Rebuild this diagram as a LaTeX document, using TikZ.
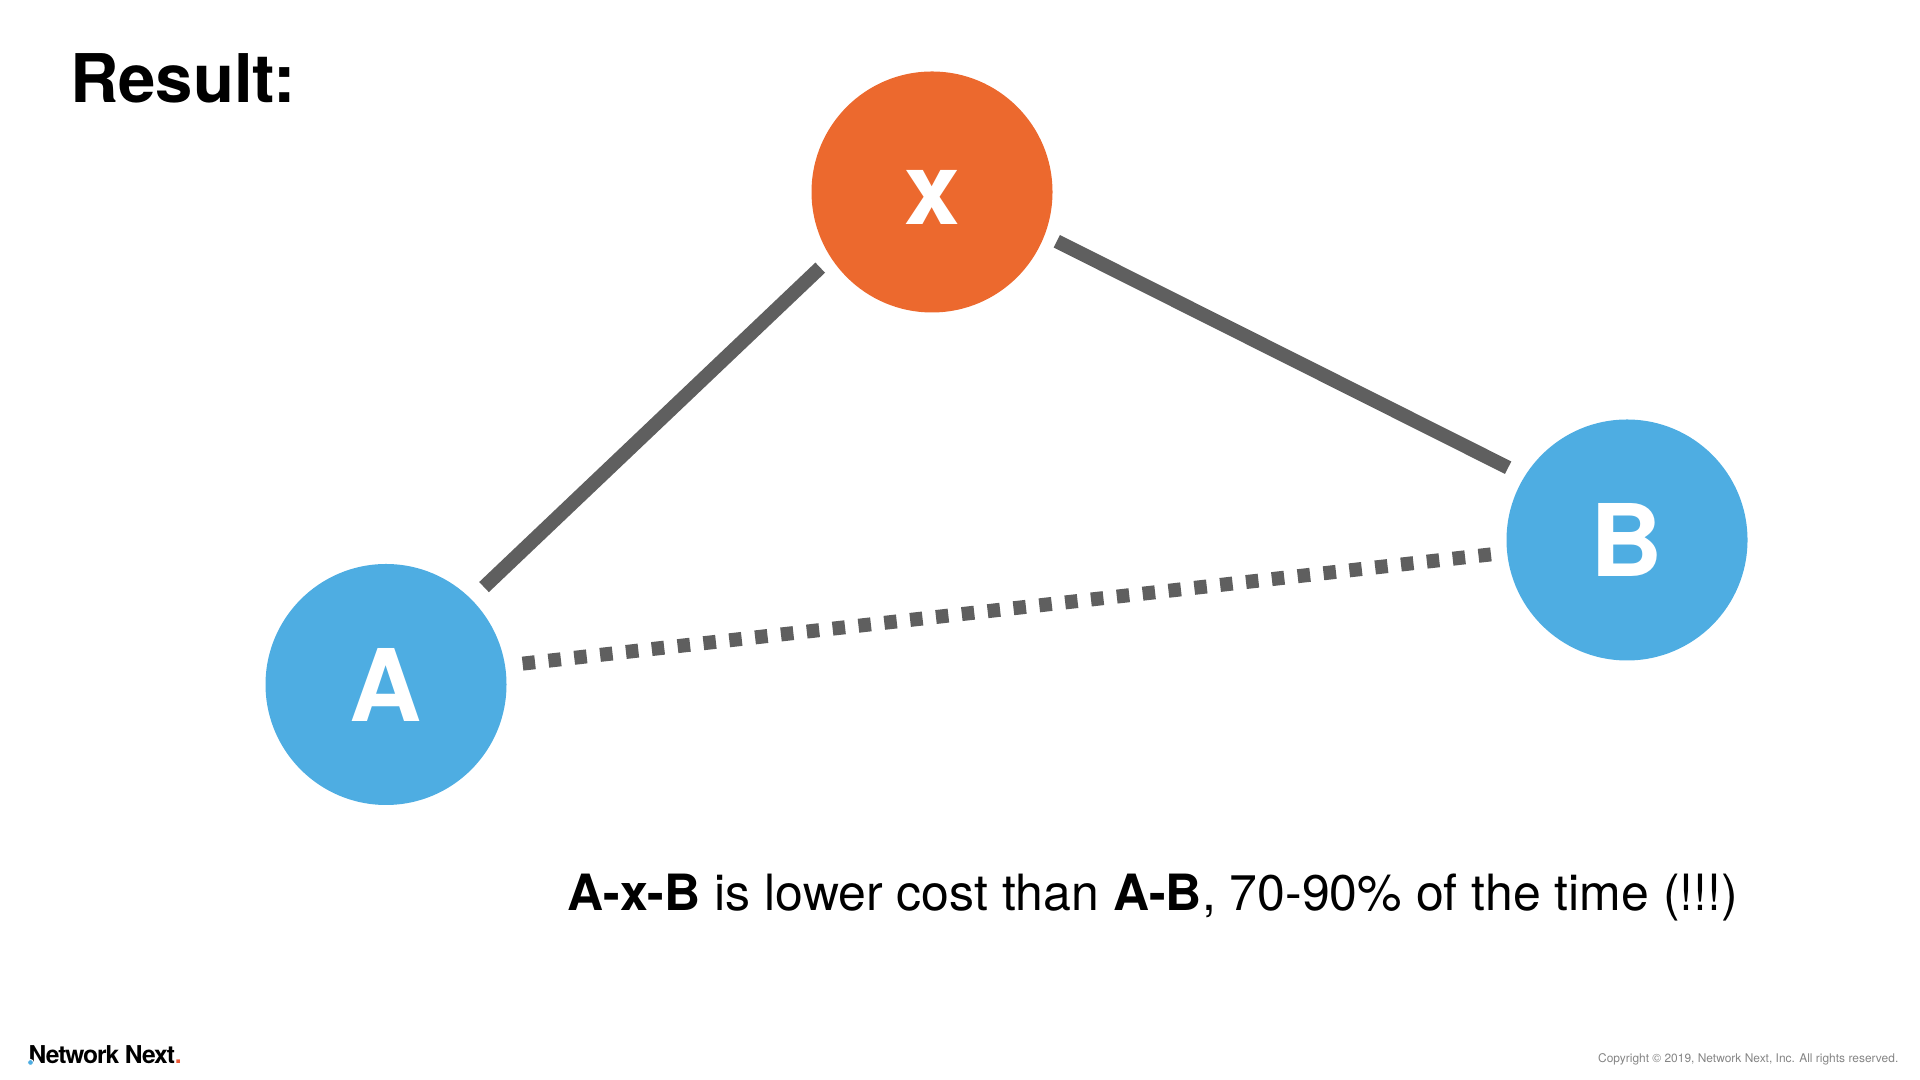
\documentclass[tikz,border=0pt]{standalone}
\usepackage{fontspec}
\setmainfont{TeX Gyre Heros}
\usepackage{tikz}
\usetikzlibrary{positioning}

\definecolor{edgeblue}{HTML}{4EADE2}
\definecolor{relayorange}{HTML}{EC692E}
\definecolor{linegray}{HTML}{5F5F5F}
\definecolor{notegray}{HTML}{848484}
\definecolor{logored}{HTML}{EE5A36}

\begin{document}
\begin{tikzpicture}
		\tikzstyle{Vertex} 	= [circle, minimum size=2.41cm, inner sep=0pt, text=white, font=\fontsize{28.5}{30}\selectfont\bfseries]
		\tikzstyle{Edge}	= [Vertex, fill=edgeblue]
		\tikzstyle{Relay}	= [Vertex, fill=relayorange, text height=0.66cm]
		\tikzstyle{Route}	= [line width=0.14cm, linegray]
		\tikzstyle{Direct}	= [Route, dash pattern=on 0.125cm off 0.135cm]
		
		\useasboundingbox (0, 0) rectangle (19.2, 10.8);
		
		\node (title) at (0.695, 9.77) [anchor=base west, inner sep=0pt, font=\fontsize{19.1}{21}\selectfont\bfseries] {Result:};
		
		\node (A) at (3.86, 3.955) [Edge] {A};
		\node (x) at (9.32, 8.88) [Relay] {x};
		\node (B) at (16.27, 5.40) [Edge] {B};
		
		\draw [-] (A.45.6) to (x.213.6) [Route, shorten <=0.17cm, shorten >=0.14cm];
		\draw [-] (x.-21) to (B.148.5) [Route, shorten <=0.13cm, shorten >=0.18cm];
		\draw [-] (A.9.35) to (B.186.3) [Direct, shorten <=0.17cm, shorten >=0.15cm];
		
		\node (note) at (5.665, 1.69) [anchor=base west, inner sep=0pt, font=\fontsize{14.22}{16}\selectfont] {\textbf{A-x-B} is lower cost than \textbf{A-B}, 70-90\% of the time (!!!)};
		
		\node (logo) at (0.28, 0.16) [anchor=base west, inner sep=0pt, font=\fontsize{7}{8}\selectfont\bfseries\addfontfeatures{LetterSpace=-4.5}] {Network Next\textcolor{logored}{.}};
		\node (logodot) at (0.305, 0.175) [circle, fill=edgeblue, draw=white, line width=0.01cm, minimum size=0.06cm, inner sep=0pt] {};
		\node (copyright) at (18.99, 0.175) [anchor=base east, inner sep=0pt, text=notegray, font=\fontsize{3.4}{4}\selectfont] {Copyright © 2019, Network Next, Inc. All rights reserved.};
	\end{tikzpicture}
\end{document}
